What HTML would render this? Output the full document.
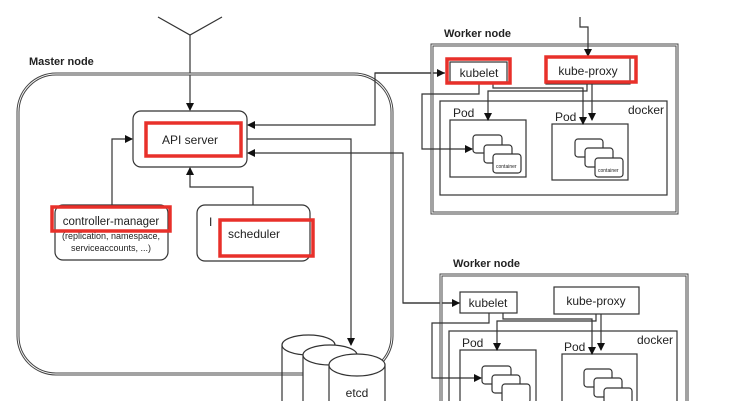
<!DOCTYPE html>
<html><head><meta charset="utf-8"><style>
html,body{margin:0;padding:0;background:#fff}
svg{display:block}
text{font-family:"Liberation Sans",sans-serif;fill:#222}
</style></head><body>
<svg width="745" height="418" viewBox="0 0 745 418" xmlns="http://www.w3.org/2000/svg">
<defs>
<marker id="a" markerWidth="8" markerHeight="8" refX="7" refY="4" orient="auto" markerUnits="userSpaceOnUse"><path d="M0,0 L8,4 L0,8 z" fill="#111"/></marker>
</defs>
<g fill="none" stroke="#333" stroke-width="1.2">
<!-- top triangle -->
<path d="M158,17 L190,35 L222,17"/>
<line x1="190" y1="35" x2="190" y2="110" marker-end="url(#a)"/>
<!-- master -->
<rect x="18" y="74" width="374" height="300" rx="38" stroke-width="3" stroke="#444"/>
<rect x="18" y="74" width="374" height="300" rx="38" stroke-width="1" stroke="#fff"/>
<rect x="133" y="111" width="114" height="56" rx="8"/>
<rect x="55" y="205" width="113" height="55" rx="8"/>
<rect x="197" y="205" width="113" height="56" rx="8"/>
<path d="M112,205 V139 H132" marker-end="url(#a)"/>
<path d="M253,205 V187 H190 V168" marker-end="url(#a)"/>
<path d="M445,73 H375 V125 H248" marker-end="url(#a)"/>
<path d="M375,73 H444" marker-end="url(#a)"/>
<path d="M460,303 H403 V153 H248" marker-end="url(#a)"/>
<path d="M403,303 H459" marker-end="url(#a)"/>
<path d="M247,139 H351 V345" marker-end="url(#a)"/>
<!-- worker 1 -->
<rect x="432" y="45" width="245" height="168" stroke-width="3" stroke="#444"/>
<rect x="432" y="45" width="245" height="168" stroke-width="1" stroke="#fff"/>
<rect x="450" y="62" width="57" height="20"/>
<rect x="546" y="57" width="84" height="27"/>
<rect x="440" y="101" width="227" height="94"/>
<rect x="450" y="120" width="76" height="57"/>
<rect x="552" y="124" width="76" height="56"/>
<rect x="473" y="135" width="29" height="18" rx="3" fill="#fff"/>
<rect x="484" y="145" width="28" height="18" rx="3" fill="#fff"/>
<rect x="493" y="154" width="28" height="19" rx="3" fill="#fff"/>
<rect x="575" y="139" width="28" height="18" rx="3" fill="#fff"/>
<rect x="585" y="148" width="28" height="19" rx="3" fill="#fff"/>
<rect x="595" y="158" width="28" height="19" rx="3" fill="#fff"/>
<path d="M479,82 V94 H422 V149 H472" marker-end="url(#a)"/>
<path d="M493,82 V88 H583 V124" marker-end="url(#a)"/>
<path d="M587,84 V91 H488 V120" marker-end="url(#a)"/>
<path d="M592,84 V120" marker-end="url(#a)"/>
<path d="M580,17 V27 H588 V56" marker-end="url(#a)"/>
<!-- worker 2 -->
<rect x="441" y="275" width="246" height="160" stroke-width="3" stroke="#444"/>
<rect x="441" y="275" width="246" height="160" stroke-width="1" stroke="#fff"/>
<rect x="460" y="292" width="57" height="21"/>
<rect x="554" y="287" width="85" height="27"/>
<rect x="449" y="331" width="228" height="100"/>
<rect x="460" y="350" width="76" height="80"/>
<rect x="562" y="354" width="75" height="80"/>
<rect x="482" y="366" width="29" height="18" rx="3" fill="#fff"/>
<rect x="492" y="375" width="28" height="18" rx="3" fill="#fff"/>
<rect x="502" y="384" width="28" height="19" rx="3" fill="#fff"/>
<rect x="584" y="369" width="28" height="18" rx="3" fill="#fff"/>
<rect x="594" y="378" width="28" height="19" rx="3" fill="#fff"/>
<rect x="604" y="388" width="28" height="19" rx="3" fill="#fff"/>
<path d="M489,313 V323 H432 V378 H481" marker-end="url(#a)"/>
<path d="M503,313 V319 H592 V354" marker-end="url(#a)"/>
<path d="M596,314 V321 H497 V350" marker-end="url(#a)"/>
<path d="M601,314 V350" marker-end="url(#a)"/>
<!-- etcd -->
<path d="M282,345 V420 M335,345 V420" />
<ellipse cx="308.5" cy="345" rx="26.5" ry="10" fill="#fff"/>
<path d="M303,355 V420 H357 V355 Z" fill="#fff"/>
<ellipse cx="330" cy="355" rx="27" ry="10" fill="#fff"/>
<path d="M329,365 V420 H385 V365 Z" fill="#fff"/>
<ellipse cx="357" cy="365" rx="28" ry="11" fill="#fff"/>
</g>
<rect x="0" y="401" width="745" height="17" fill="#fff"/>
<!-- red highlights -->
<g fill="none" stroke="#e8302a" stroke-width="3.5">
<rect x="146" y="123" width="95" height="33"/>
<rect x="52" y="207" width="118" height="24"/>
<rect x="220" y="220" width="93" height="36"/>
<rect x="447" y="59" width="63" height="24"/>
<rect x="546" y="57" width="90" height="25"/>
</g>
<g font-size="12">
<text x="29" y="65" font-weight="bold" font-size="11">Master node</text>
<text x="444" y="37" font-weight="bold" font-size="11">Worker node</text>
<text x="453" y="267" font-weight="bold" font-size="11">Worker node</text>
<text x="190" y="144" text-anchor="middle">API server</text>
<text x="111" y="225" text-anchor="middle" font-size="11.5">controller-manager</text>
<text x="111" y="239" text-anchor="middle" font-size="9">(replication, namespace,</text>
<text x="111" y="251" text-anchor="middle" font-size="9">serviceaccounts, ...)</text>
<text x="254" y="238" text-anchor="middle">scheduler</text>
<text x="479" y="77" text-anchor="middle">kubelet</text>
<text x="588" y="75" text-anchor="middle">kube-proxy</text>
<text x="488" y="307" text-anchor="middle">kubelet</text>
<text x="596" y="305" text-anchor="middle">kube-proxy</text>
<text x="453" y="117">Pod</text>
<text x="555" y="121">Pod</text>
<text x="628" y="114">docker</text>
<text x="462" y="347">Pod</text>
<text x="564" y="351">Pod</text>
<text x="637" y="344">docker</text>
<text x="357" y="397" text-anchor="middle">etcd</text>
</g>
<g font-size="5" fill="#555">
<text x="496" y="168">container</text><text x="598" y="172">container</text>
</g>
<text x="209" y="226" font-size="12" fill="#333">I</text>
</svg>
</body></html>
